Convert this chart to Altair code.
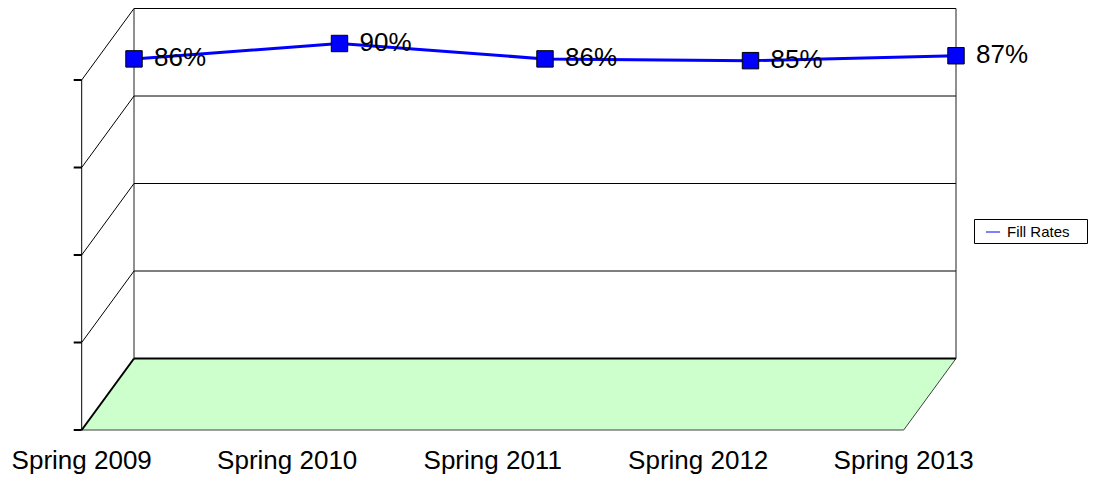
import altair as alt
import pandas as pd

# ---- data ----
categories = ["Spring 2009", "Spring 2010", "Spring 2011", "Spring 2012", "Spring 2013"]
fill_rates = [85.6, 90.0, 85.6, 85.1, 86.5]  # percent
series_name = "Fill Rates"
grid_levels = [0, 25, 50, 75, 100]

# ---- layout (pixels) ----
W, H = 1080, 471
PX_CAT = 205.5          # pixels per category step
X0 = 126                # plot-x of first category on back wall
PX_PCT = 3.5            # pixels per percent
TOP = 0.5               # plot-y of 100%
DX = 52.3 / PX_CAT      # depth offset (category units)
DY = 71.5 / PX_PCT      # depth offset (percent units)
TICK = 8 / PX_CAT
FONT = "Liberation Sans"

xs = alt.Scale(domain=[-X0 / PX_CAT, (W - X0) / PX_CAT], nice=False, zero=False)
ys = alt.Scale(domain=[100 - (H - TOP) / PX_PCT, 100 + TOP / PX_PCT], nice=False, zero=False)

n = len(categories)
last = n - 1

df = pd.DataFrame({"idx": list(range(n)), "cat": categories, "rate": fill_rates,
                   "series": [series_name] * n})

# floor parallelogram (as a vertical band between two piecewise lines)
floor = pd.DataFrame({
    "x": [-DX, 0, last - DX, last],
    "top": [-DY, 0, 0, 0],
    "bot": [-DY, -DY, -DY, 0],
})
# floor outline edges (front edge + right diagonal)
floor_edges = pd.DataFrame({"x": [-DX, last], "x2": [last - DX, last - DX],
                            "y": [-DY, 0], "y2": [-DY, -DY]})
grid = pd.DataFrame({"g": grid_levels, "x": [0] * 5, "x2": [last] * 5,
                     "w": [2 if g == 0 else 1 for g in grid_levels]})
walls = pd.DataFrame({"x": [0, last], "y": [0, 0], "y2": [100, 100]})
diag = pd.DataFrame({"x": [0] * 5, "x2": [-DX] * 5, "y": grid_levels,
                     "y2": [g - DY for g in grid_levels],
                     "w": [2 if g == 0 else 1 for g in grid_levels]})
front = pd.DataFrame({"x": [-DX], "y": [-DY], "y2": [100 - DY]})
ticks = pd.DataFrame({"x": [-DX - TICK] * 5, "x2": [-DX] * 5,
                      "y": [g - DY for g in grid_levels]})
catlab = pd.DataFrame({"x": [i - DX for i in range(n)], "y": [-DY] * n, "cat": categories})

X = lambda f: alt.X(f, scale=xs, axis=None)
Y = lambda f: alt.Y(f, scale=ys, axis=None)

floor_l = alt.Chart(floor).mark_area(color="#CCFFCC", opacity=1, orient="vertical").encode(
    x=X("x:Q"), y=Y("top:Q"), y2="bot:Q")
edges_l = alt.Chart(floor_edges).mark_rule(color="#404040", strokeWidth=1).encode(
    x=X("x:Q"), x2="x2:Q", y=Y("y:Q"), y2="y2:Q")
grid_l = alt.Chart(grid).mark_rule(color="black").encode(
    x=X("x:Q"), x2="x2:Q", y=Y("g:Q"), strokeWidth=alt.StrokeWidth("w:Q", scale=None))
walls_l = alt.Chart(walls).mark_rule(color="#202020", strokeWidth=1).encode(
    x=X("x:Q"), y=Y("y:Q"), y2="y2:Q")
diag_l = alt.Chart(diag).mark_rule(color="black").encode(
    x=X("x:Q"), x2="x2:Q", y=Y("y:Q"), y2="y2:Q",
    strokeWidth=alt.StrokeWidth("w:Q", scale=None))
front_l = alt.Chart(front).mark_rule(color="black", strokeWidth=1).encode(
    x=X("x:Q"), y=Y("y:Q"), y2="y2:Q")
ticks_l = alt.Chart(ticks).mark_rule(color="black", strokeWidth=2).encode(
    x=X("x:Q"), x2="x2:Q", y=Y("y:Q"))

# legend frame (decoration)
legbox_l = alt.Chart(pd.DataFrame({"k": [0]})).mark_rect(
    fill="white", stroke="black", strokeWidth=1).encode(
    x=alt.value(966.5), x2=alt.value(1079.5), y=alt.value(211.5), y2=alt.value(235.5))

line_l = alt.Chart(df).mark_line(strokeWidth=3).encode(
    x=X("idx:Q"), y=Y("rate:Q"),
    color=alt.Color("series:N",
                    scale=alt.Scale(domain=[series_name], range=["#0000FF"]),
                    legend=alt.Legend(orient="none", legendX=966, legendY=211, title=None,
                                      padding=5, symbolOffset=6, symbolSize=200,
                                      symbolStrokeWidth=1,
                                      labelFontSize=15, labelFont=FONT, labelOffset=6,
                                      labelColor="black")))
pts_l = alt.Chart(df).mark_point(shape="square", filled=True, size=270, fill="#0000FF",
                                 stroke="black", strokeWidth=1, opacity=1).encode(
    x=X("idx:Q"), y=Y("rate:Q"))
lab_l = alt.Chart(df).transform_calculate(lbl="round(datum.rate) + '%'").mark_text(
    align="left", baseline="middle", dx=20, dy=-1, fontSize=26, font=FONT, color="black").encode(
    x=X("idx:Q"), y=Y("rate:Q"), text="lbl:N")
cat_l = alt.Chart(catlab).mark_text(
    align="center", baseline="alphabetic", dy=38.5, fontSize=26, font=FONT, color="black").encode(
    x=X("x:Q"), y=Y("y:Q"), text="cat:N")

chart = alt.layer(floor_l, edges_l, grid_l, walls_l, diag_l, front_l, ticks_l, legbox_l,
                  line_l, pts_l, lab_l, cat_l).properties(
    width=W, height=H, autosize=alt.AutoSizeParams(type="none"), padding=0,
    background="white"
).configure_view(stroke=None)

chart.save("out.html", embed_options={"renderer": "svg", "actions": False})
